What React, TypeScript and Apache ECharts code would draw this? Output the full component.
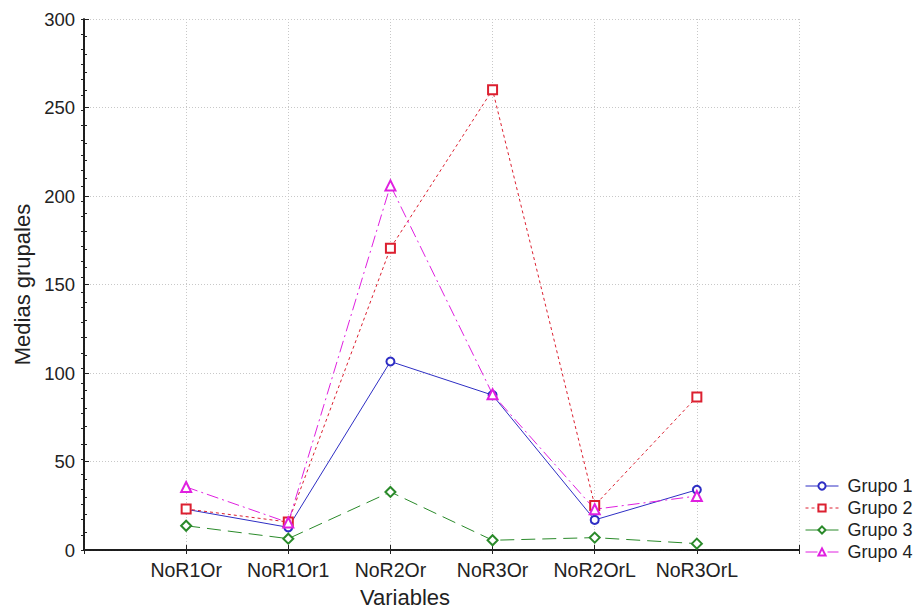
import React, { useEffect, useRef } from "react";
import * as echarts from "echarts";

const categories = ["NoR1Or", "NoR1Or1", "NoR2Or", "NoR3Or", "NoR2OrL", "NoR3OrL"];
const grupo1 = [23, 12.8, 106.5, 87.5, 17, 34];
const grupo2 = [23.2, 15.8, 170.5, 260, 25.2, 86.5];
const grupo3 = [13.7, 6.4, 32.8, 5.5, 7, 3.6];
const grupo4 = [35.6, 15.5, 206, 88, 23, 30.5];
const yTicks = [0, 50, 100, 150, 200, 250, 300];

const FONT = "Liberation Sans, Arial, sans-serif";

export default function App() {
  const ref = useRef<HTMLDivElement>(null);
  useEffect(() => {
    document.body.style.margin = "0";
    const chart = echarts.init(ref.current!, null, { renderer: "svg" });
    const toPts = (arr: number[]) => arr.map((v, i) => [i + 1, v]);
    const mk = (name: string, data: number[], color: string, symbol: string, type: any, size: number) => ({
      name,
      type: "line",
      data: toPts(data),
      xAxisIndex: 0,
      yAxisIndex: 0,
      symbol,
      symbolSize: size,
      showSymbol: true,
      color,
      lineStyle: { color, width: 1, type },
      itemStyle: { color, borderColor: color, borderWidth: 1.2 },
      emphasis: { disabled: true },
    });
    chart.setOption({
      animation: false,
      backgroundColor: "#ffffff",
      textStyle: { fontFamily: FONT },
      grid: { left: 84, right: 117, top: 19, bottom: 61, containLabel: false },
      legend: {
        orient: "vertical",
        left: 805,
        top: 477,
        padding: 0,
        itemWidth: 33,
        itemHeight: 9,
        itemGap: 4,
        lineStyle: { width: 1 },
        itemStyle: { borderWidth: 1 },
        textStyle: { fontSize: 18, color: "#222", fontFamily: FONT, padding: [0, 0, 0, 4] },
        data: ["Grupo 1", "Grupo 2", "Grupo 3", "Grupo 4"],
      },
      graphic: [
        {
          type: "text",
          left: 360,
          top: 586,
          style: { text: "Variables", fontSize: 22, fill: "#222", fontFamily: FONT },
        },
      ],
      xAxis: [
        {
          type: "value",
          min: 0,
          max: 7,
          interval: 1,
          axisLine: { show: true, lineStyle: { color: "#111", width: 1.5 } },
          axisTick: { show: true, inside: true, length: 5, lineStyle: { color: "#222" } },
          axisLabel: {
            fontSize: 19.5,
            color: "#222",
            margin: 10,
            fontFamily: FONT,
            formatter: (v: number) => categories[v - 1] ?? "",
          },
          splitLine: { show: true, lineStyle: { color: "#c8c8c8", type: [1, 2], width: 1 } },
        },
        {
          type: "value",
          position: "top",
          min: 0,
          max: 7,
          interval: 1,
          axisLine: { show: true, lineStyle: { color: "#111", width: 1.5 } },
          axisTick: { show: true, inside: true, length: 4, lineStyle: { color: "#222" } },
          axisLabel: { show: false },
          splitLine: { show: false },
        },
      ],
      yAxis: [
        {
          type: "value",
          min: yTicks[0],
          max: yTicks[yTicks.length - 1],
          interval: 50,
          name: "Medias grupales",
          nameLocation: "middle",
          nameGap: 50,
          nameTextStyle: { fontSize: 22, color: "#222", fontFamily: FONT },
          axisLine: { show: true, lineStyle: { color: "#111", width: 1.5 } },
          axisTick: { show: true, inside: true, length: 5, lineStyle: { color: "#222" } },
          minorTick: { show: true, splitNumber: 5, length: 3, lineStyle: { color: "#222" } },
          axisLabel: { fontSize: 18.5, color: "#222", margin: 9, fontFamily: FONT },
          splitLine: { show: true, lineStyle: { color: "#c8c8c8", type: [1, 2], width: 1 } },
        },
        {
          type: "value",
          position: "right",
          min: 0,
          max: 35,
          interval: 1,
          axisLine: { show: true, lineStyle: { color: "#111", width: 1.5 } },
          axisTick: { show: true, inside: true, length: 3, lineStyle: { color: "#222" } },
          axisLabel: { show: false },
          splitLine: { show: false },
        },
      ],
      series: [
        mk("Grupo 1", grupo1, "#2e2ec4", "emptyCircle", "solid", 8),
        mk("Grupo 2", grupo2, "#dc2030", "emptyRect", [3, 3], 9),
        mk("Grupo 3", grupo3, "#2a8a2a", "emptyDiamond", [14, 7], 10),
        mk("Grupo 4", grupo4, "#e020e0", "emptyTriangle", [12, 4, 2, 4], 10),
      ],
    });
    return () => chart.dispose();
  }, []);
  return <div ref={ref} style={{ position: "fixed", left: 0, top: 0, width: 916, height: 611 }} />;
}
